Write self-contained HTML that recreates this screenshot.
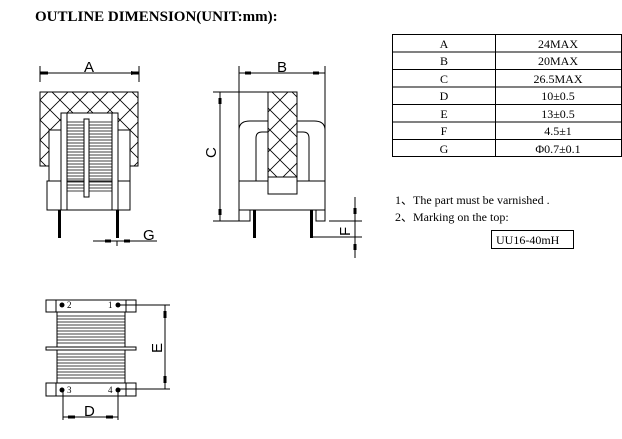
<!DOCTYPE html>
<html><head><meta charset="utf-8"><style>
body{margin:0;width:622px;height:439px;background:#fff;overflow:hidden}
svg{display:block}
text{font-family:"Liberation Serif",serif;fill:#000}
.s{font-family:"Liberation Sans",sans-serif;font-weight:normal}
</style></head><body>
<svg width="622" height="439" viewBox="0 0 622 439" xmlns="http://www.w3.org/2000/svg">
<defs>
<pattern id="h" width="20" height="20" patternUnits="userSpaceOnUse">
<path d="M0 0L20 20M20 0L0 20" stroke="#000" stroke-width="0.8"/>
</pattern>
<marker id="ar" markerWidth="8" markerHeight="4" refX="8" refY="2" orient="auto" markerUnits="userSpaceOnUse"><path d="M0 0L8 2L0 4z" fill="#000"/></marker>
</defs>
<text x="35" y="21" font-size="15" font-weight="bold">OUTLINE DIMENSION(UNIT:mm):</text>
<g stroke="#000" fill="none" stroke-width="1">
<!-- left view -->
<path d="M40 66V82M139 66V82"/>
<path d="M40 73H139" marker-start="url(#ar)" marker-end="url(#ar)" style="marker-start:none"/>
<path d="M48 73H40M131 73H139" stroke-width="3"/>
<path d="M40 92H138V166H130V130H118V113H61V130H49V166H40Z" fill="url(#h)"/>
<rect x="49" y="130" width="12" height="51" fill="#fff"/>
<rect x="118" y="130" width="12" height="51" fill="#fff"/>
<rect x="47" y="181" width="83" height="29" fill="#fff"/>
<rect x="61" y="113" width="6" height="97" fill="#fff"/>
<rect x="112" y="113" width="6" height="97" fill="#fff"/>
<path d="M67 122H112M67 125H112M67 128H112M67 131H112M67 134H112M67 137H112M67 140H112M67 143H112M67 146H112M67 149H112M67 152H112M67 155H112M67 158H112M67 161H112M67 164H112M67 167H112M67 170H112M67 173H112M67 176H112M67 179H112M67 182H112M67 185H112M67 188H112M67 191H112" stroke-width="0.8"/>
<rect x="84" y="119" width="5" height="78" fill="#fff"/>
<path d="M59.5 210V238M117.5 210V238" stroke-width="3"/>
<path d="M93 241H157"/>
<path d="M105 241H111M124 241H130" stroke-width="3"/>
<path d="M117 241V246"/>
<!-- middle view -->
<path d="M239 66V181M325 66V181"/>
<path d="M239 73H325"/>
<path d="M245 73H251M313 73H319" stroke-width="3"/>
<path d="M213 92H268M213 221H240"/>
<path d="M220 92V221"/>
<path d="M220 98V104M220 209V215" stroke-width="3"/>
<path d="M239 181V130Q239 121 250 121H268M256 181V138Q256 132 262 132H268M325 181V130Q325 121 314 121H297M309 181V138Q309 132 303 132H297"/>
<rect x="239" y="181" width="86" height="29" fill="#fff"/>
<rect x="268" y="92" width="29" height="85" fill="url(#h)"/>
<rect x="268" y="177" width="29" height="17" fill="#fff"/>
<path d="M239 210V221H250V210M316 210V221H325V210"/>
<path d="M254.5 210V238M311.5 210V238" stroke-width="3"/>
<path d="M329 221H362M313 237H362M355 197V258"/>
<path d="M355 208V214M355 244V250" stroke-width="3"/>
<!-- bottom view -->
<rect x="46" y="300" width="90" height="12"/>
<path d="M56 300V312M126 300V312"/>
<rect x="57" y="312" width="68" height="71"/>
<path d="M57 316H125M57 319H125M57 322H125M57 325H125M57 328H125M57 331H125M57 334H125M57 337H125M57 340H125M57 343H125M57 354H125M57 357H125M57 360H125M57 363H125M57 366H125M57 369H125M57 372H125M57 375H125M57 378H125" stroke-width="0.8"/>
<rect x="46" y="347" width="90" height="3" fill="#fff"/>
<rect x="46" y="383" width="90" height="13"/>
<path d="M56 383V396M126 383V396"/>
<path d="M120 305H170M120 389H170M165 305V389"/>
<path d="M165 311V318M165 376V383" stroke-width="3"/>
<path d="M63 389V420M118 389V420M63 417H118"/>
<path d="M68 417H75M106 417H113" stroke-width="3"/>
<!-- table -->
<rect x="392.5" y="34.5" width="229" height="122"/>
<path d="M495.5 34V157M392 52H622M392 69.5H622M392 87H622M392 104.5H622M392 122H622M392 139.5H622" stroke-width="1"/>
<rect x="491.5" y="230.5" width="82" height="18"/>
</g>
<g fill="#000">
<circle cx="62" cy="305" r="2.5"/><circle cx="118" cy="305" r="2.5"/>
<circle cx="62" cy="390" r="2.5"/><circle cx="118" cy="390" r="2.5"/>
</g>
<g font-size="9">
<text x="67" y="308">2</text><text x="108" y="308">1</text>
<text x="67" y="393">3</text><text x="108" y="393">4</text>
</g>
<g class="s" font-size="15" font-family="Liberation Sans">
<text x="84" y="72" style="font-family:'Liberation Sans'">A</text>
<text x="277" y="72" style="font-family:'Liberation Sans'">B</text>
<text x="143" y="240" style="font-family:'Liberation Sans'">G</text>
<text x="84" y="416" style="font-family:'Liberation Sans'">D</text>
<text transform="translate(216,158) rotate(-90)" style="font-family:'Liberation Sans'">C</text>
<text transform="translate(350,236) rotate(-90)" style="font-family:'Liberation Sans'">F</text>
<text transform="translate(162,353) rotate(-90)" style="font-family:'Liberation Sans'">E</text>
</g>
<g font-size="12" text-anchor="middle">
<text x="444" y="48">A</text><text x="558" y="48">24MAX</text>
<text x="444" y="65">B</text><text x="558" y="65">20MAX</text>
<text x="444" y="83">C</text><text x="558" y="83">26.5MAX</text>
<text x="444" y="100">D</text><text x="558" y="100">10±0.5</text>
<text x="444" y="118">E</text><text x="558" y="118">13±0.5</text>
<text x="444" y="135">F</text><text x="558" y="135">4.5±1</text>
<text x="444" y="153">G</text><text x="558" y="153">Φ0.7±0.1</text>
</g>
<g font-size="12">
<text x="395" y="204">1、The part must be varnished .</text>
<text x="395" y="221">2、Marking on the top:</text>
<text x="496" y="244">UU16-40mH</text>
</g>
</svg>
</body></html>
